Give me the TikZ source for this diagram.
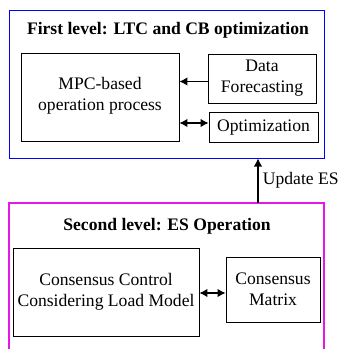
\documentclass[tikz,border=0pt]{standalone}
\usepackage{fontspec}
\setmainfont{Liberation Serif}
\usepackage{tikz}
\usetikzlibrary{arrows.meta,calc,positioning}
\definecolor{esmagenta}{rgb}{0.9,0.1,0.9}

\begin{document}
\begin{tikzpicture}[x=1pt,y=-1pt,
    font=\fontsize{17.6}{21}\selectfont,
    block/.style={draw,line width=0.9pt,align=center,inner sep=0pt},
    levelframe/.style={line width=1pt},
    link/.style={line width=1.1pt,-{Latex[length=8pt,width=8.5pt]}},
    dlink/.style={line width=1.1pt,{Latex[length=8pt,width=8.5pt]}-{Latex[length=8pt,width=8.5pt]}}]
          \useasboundingbox (0,0) rectangle (339,349);
          % First level frame
          \node[levelframe,draw=blue,minimum width=315pt,minimum height=148pt] (level1) at (166.5,84) {};
          \node[font=\fontsize{17.6}{21}\selectfont\bfseries] (title1) at (168,30.5) {First level: LTC and CB optimization};
          \node[block,minimum width=158pt,minimum height=88pt,text depth=8pt] (mpc) at (100,97.5) {MPC-based\\operation process};
          \node[block,minimum width=108pt,minimum height=49pt] (fore) at (262,78.5) {Data\\Forecasting};
          \node[block,minimum width=109pt,minimum height=30pt] (opt) at (263.5,127.5) {Optimization};
          \draw[link] ([yshift=-3pt]fore.west) -- ([yshift=-3pt]fore.west -| mpc.east);
          \draw[dlink] ([yshift=4.5pt]opt.west -| mpc.east) -- ([yshift=4.5pt]opt.west);
          % Second level frame, open at the bottom
          \draw[levelframe,draw=esmagenta,line width=1.2pt] (9,352) -- (9,203) -- (324,203) -- (324,352);
          \coordinate (es) at (258,203);
          \node[font=\fontsize{17.6}{21}\selectfont\bfseries] (title2) at (167,226) {Second level: ES Operation};
          \node[block,minimum width=186pt,minimum height=88pt] (cons) at (106,292) {Consensus Control\\Considering Load Model};
          \node[block,minimum width=94pt,minimum height=65pt] (mat) at (273,289.5) {Consensus\\Matrix};
          \draw[dlink] ([yshift=-1pt]cons.east) -- ([yshift=-1pt]cons.east -| mat.west);
          % Update between the levels
          \draw[link] (es) -- (es |- level1.south) node[midway,right=1pt] (upd) {Update ES};
        \end{tikzpicture}
\end{document}
